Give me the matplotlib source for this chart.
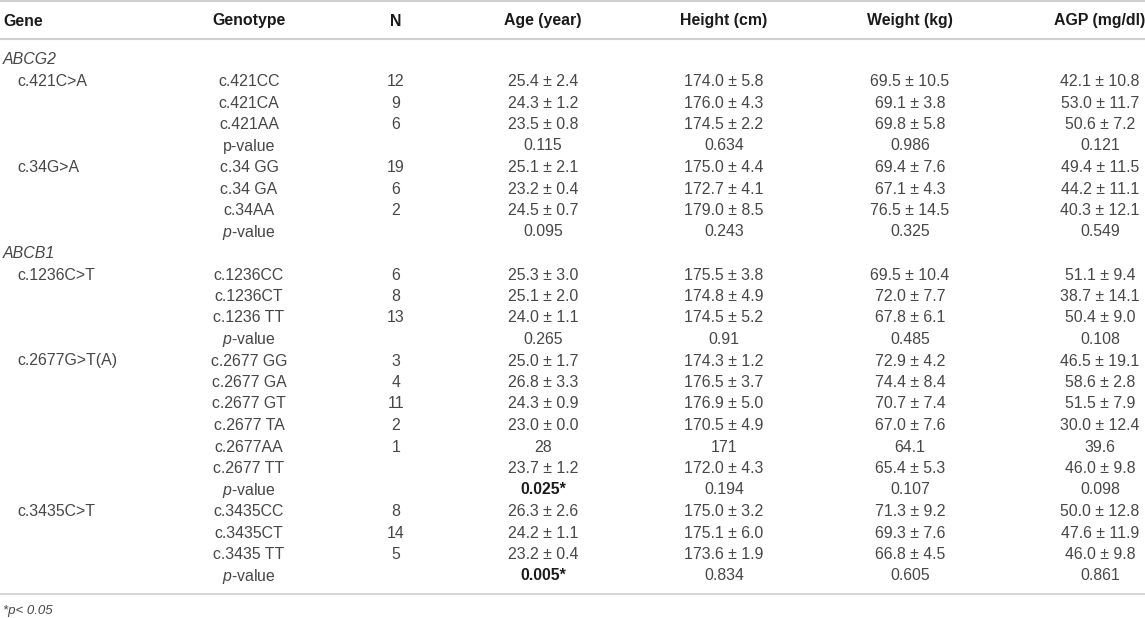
import matplotlib
matplotlib.use("Agg")
import matplotlib.pyplot as plt

# -----------------------------
# Table content
# -----------------------------
headers = ["Gene", "Genotype", "N", "Age (year)", "Height (cm)", "Weight (kg)", "AGP (mg/dl)"]

genes = ["ABCG2", "ABCB1"]
snps = {
    "ABCG2": ["c.421C>A", "c.34G>A"],
    "ABCB1": ["c.1236C>T", "c.2677G>T(A)", "c.3435C>T"],
}

genotypes = {
    "c.421C>A": ["c.421CC", "c.421CA", "c.421AA"],
    "c.34G>A": ["c.34 GG", "c.34 GA", "c.34AA"],
    "c.1236C>T": ["c.1236CC", "c.1236CT", "c.1236 TT"],
    "c.2677G>T(A)": ["c.2677 GG", "c.2677 GA", "c.2677 GT", "c.2677 TA", "c.2677AA", "c.2677 TT"],
    "c.3435C>T": ["c.3435CC", "c.3435CT", "c.3435 TT"],
}

n_values = {
    "c.421C>A": ["12", "9", "6"],
    "c.34G>A": ["19", "6", "2"],
    "c.1236C>T": ["6", "8", "13"],
    "c.2677G>T(A)": ["3", "4", "11", "2", "1", ""],
    "c.3435C>T": ["8", "14", "5"],
}

age = {
    "c.421C>A": ["25.4 ± 2.4", "24.3 ± 1.2", "23.5 ± 0.8"],
    "c.34G>A": ["25.1 ± 2.1", "23.2 ± 0.4", "24.5 ± 0.7"],
    "c.1236C>T": ["25.3 ± 3.0", "25.1 ± 2.0", "24.0 ± 1.1"],
    "c.2677G>T(A)": ["25.0 ± 1.7", "26.8 ± 3.3", "24.3 ± 0.9", "23.0 ± 0.0", "28", "23.7 ± 1.2"],
    "c.3435C>T": ["26.3 ± 2.6", "24.2 ± 1.1", "23.2 ± 0.4"],
}

height = {
    "c.421C>A": ["174.0 ± 5.8", "176.0 ± 4.3", "174.5 ± 2.2"],
    "c.34G>A": ["175.0 ± 4.4", "172.7 ± 4.1", "179.0 ± 8.5"],
    "c.1236C>T": ["175.5 ± 3.8", "174.8 ± 4.9", "174.5 ± 5.2"],
    "c.2677G>T(A)": ["174.3 ± 1.2", "176.5 ± 3.7", "176.9 ± 5.0", "170.5 ± 4.9", "171", "172.0 ± 4.3"],
    "c.3435C>T": ["175.0 ± 3.2", "175.1 ± 6.0", "173.6 ± 1.9"],
}

weight = {
    "c.421C>A": ["69.5 ± 10.5", "69.1 ± 3.8", "69.8 ± 5.8"],
    "c.34G>A": ["69.4 ± 7.6", "67.1 ± 4.3", "76.5 ± 14.5"],
    "c.1236C>T": ["69.5 ± 10.4", "72.0 ± 7.7", "67.8 ± 6.1"],
    "c.2677G>T(A)": ["72.9 ± 4.2", "74.4 ± 8.4", "70.7 ± 7.4", "67.0 ± 7.6", "64.1", "65.4 ± 5.3"],
    "c.3435C>T": ["71.3 ± 9.2", "69.3 ± 7.6", "66.8 ± 4.5"],
}

agp = {
    "c.421C>A": ["42.1 ± 10.8", "53.0 ± 11.7", "50.6 ± 7.2"],
    "c.34G>A": ["49.4 ± 11.5", "44.2 ± 11.1", "40.3 ± 12.1"],
    "c.1236C>T": ["51.1 ± 9.4", "38.7 ± 14.1", "50.4 ± 9.0"],
    "c.2677G>T(A)": ["46.5 ± 19.1", "58.6 ± 2.8", "51.5 ± 7.9", "30.0 ± 12.4", "39.6", "46.0 ± 9.8"],
    "c.3435C>T": ["50.0 ± 12.8", "47.6 ± 11.9", "46.0 ± 9.8"],
}

# p-values: age, height, weight, AGP
p_values = {
    "c.421C>A": ["0.115", "0.634", "0.986", "0.121"],
    "c.34G>A": ["0.095", "0.243", "0.325", "0.549"],
    "c.1236C>T": ["0.265", "0.91", "0.485", "0.108"],
    "c.2677G>T(A)": ["0.025*", "0.194", "0.107", "0.098"],
    "c.3435C>T": ["0.005*", "0.834", "0.605", "0.861"],
}
significant = ["0.025*", "0.005*"]

footnote = "*p< 0.05"

# -----------------------------
# Layout (pixel coordinates)
# -----------------------------
W, H = 1145, 618
col_x = [3, 249, 396, 543, 724, 910, 1100]
snp_x = 17
header_y = 21
first_row_y = 60
row_h = 21.5

plt.rcParams["font.family"] = ["Liberation Sans", "DejaVu Sans"]
plt.rcParams["mathtext.fontset"] = "custom"
plt.rcParams["mathtext.it"] = "Liberation Sans:italic"
plt.rcParams["mathtext.rm"] = "Liberation Sans"

fs = 11.4
txt_col = "#474747"
line_col = "#cfcfcf"

fig = plt.figure(figsize=(W / 100, H / 100), dpi=100)
ax = fig.add_axes([0, 0, 1, 1])
ax.set_xlim(0, W)
ax.set_ylim(H, 0)
ax.axis("off")

# rules
ax.plot([0, W], [1, 1], color=line_col, lw=1.5)
ax.plot([0, W], [39, 39], color=line_col, lw=1.5)
ax.plot([0, W], [594, 594], color=line_col, lw=1.2)

# header
for i, h in enumerate(headers):
    ax.text(col_x[i], header_y, h, ha="left" if i == 0 else "center", va="center",
            fontsize=fs, fontweight="bold", color="#1a1a1a")

y = first_row_y
first_p = True
for g in genes:
    ax.text(col_x[0], y, g, ha="left", va="center", fontsize=fs, style="italic",
            color=txt_col)
    y += row_h
    for s in snps[g]:
        ax.text(snp_x, y, s, ha="left", va="center", fontsize=fs, color=txt_col)
        for k, gt in enumerate(genotypes[s]):
            cells = [gt, n_values[s][k], age[s][k], height[s][k], weight[s][k], agp[s][k]]
            for j, c in enumerate(cells):
                ax.text(col_x[j + 1], y, c, ha="center", va="center", fontsize=fs,
                        color=txt_col)
            y += row_h
        label = "p-value" if first_p else r"$\mathit{p}$-value"
        first_p = False
        ax.text(col_x[1], y, label, ha="center", va="center", fontsize=fs,
                color=txt_col)
        for j, pv in enumerate(p_values[s]):
            bold = pv in significant
            ax.text(col_x[j + 3], y, pv, ha="center", va="center", fontsize=fs,
                    fontweight="bold" if bold else "normal",
                    color="#1a1a1a" if bold else txt_col)
        y += row_h

ax.text(col_x[0], 611, footnote, ha="left", va="center", fontsize=9.5, style="italic",
        color=txt_col)

fig.savefig("out.png", dpi=100)
